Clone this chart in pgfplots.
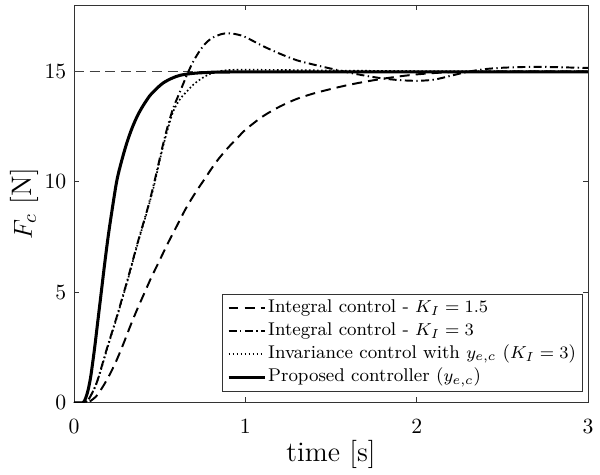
\documentclass[border=0pt]{standalone}
\usepackage{pgfplots}
\pgfplotsset{compat=1.18}
\begin{document}
\begin{tikzpicture}
\begin{axis}[
  name=ax,
  scale only axis, width=237pt, height=183.4pt,
  xmin=0, xmax=3, ymin=0, ymax=18,
  xtick={0,1,2,3}, ytick={0,5,10,15},
  tick align=inside, major tick length=2.5pt,
  axis line style={draw=black!80},
  every tick/.style={draw=black!80},
  tick label style={font=\normalsize},
  xticklabel style={anchor=base, yshift=-14.3pt},
  xlabel={time [s]}, ylabel={$F_c$ [N]},
  every axis x label/.style={at={([yshift=-24pt]axis description cs:0.5,0)}, anchor=center, font=\fontsize{13}{15}\selectfont},
  every axis y label/.style={at={([xshift=-22.6pt]axis description cs:0,0.5)}, rotate=90, anchor=center, font=\fontsize{13}{15}\selectfont},
  legend style={at={(0.99,0.028)}, anchor=south east,
    font=\fontsize{8.5}{10}\selectfont,
    draw=black!80, inner xsep=2pt, inner ysep=1pt, row sep=0pt,
    nodes={inner sep=1pt, text height=6.4pt, text depth=2.3pt}},
  legend cell align=left,
  legend image code/.code={\draw[#1] (0pt,0pt) -- (16.6pt,0pt);},
]
\addplot[black!75, line width=0.5pt, dash pattern=on 4.6pt off 2.6pt, forget plot] coordinates {(0,15) (3,15)};
\addplot[black, line width=0.9pt, dash pattern=on 4.6pt off 2.8pt, smooth, tension=0.5] coordinates {
(0,0)(0.07,0)(0.09,0.05)(0.13,0.3)(0.17,0.75)(0.21,1.3)(0.25,1.95)(0.29,2.7)(0.33,3.5)(0.37,4.25)(0.41,4.95)(0.45,5.65)(0.50,6.45)(0.55,7.25)(0.60,8.0)(0.65,8.75)(0.70,9.4)(0.76,10.1)(0.83,10.9)(0.90,11.55)(0.95,11.95)(1.0,12.35)(1.1,12.95)(1.2,13.4)(1.3,13.75)(1.4,14.0)(1.5,14.2)(1.6,14.38)(1.7,14.53)(1.8,14.66)(1.9,14.77)(2.0,14.86)(2.1,14.92)(2.2,14.96)(2.4,14.99)(2.6,15.0)(3,15.0)};
\addlegendentry{Integral control - $K_I = 1.5$}
\addplot[black, line width=0.9pt, dash pattern=on 3.7pt off 1.6pt on 0.6pt off 1.6pt, smooth, tension=0.5] coordinates {
(0,0)(0.06,0)(0.08,0.1)(0.10,0.35)(0.13,0.85)(0.16,1.6)(0.19,2.4)(0.22,3.15)(0.25,3.9)(0.28,4.7)(0.31,5.5)(0.34,6.35)(0.37,7.2)(0.40,8.0)(0.43,8.8)(0.46,9.7)(0.49,10.7)(0.52,11.7)(0.55,12.6)(0.58,13.35)(0.62,14.1)(0.66,14.85)(0.70,15.5)(0.75,16.1)(0.80,16.48)(0.86,16.68)(0.90,16.72)(0.95,16.67)(1.0,16.55)(1.1,16.15)(1.2,15.8)(1.3,15.5)(1.4,15.3)(1.5,15.12)(1.6,14.95)(1.7,14.8)(1.8,14.68)(1.9,14.6)(2.0,14.57)(2.1,14.62)(2.2,14.8)(2.3,14.98)(2.4,15.1)(2.5,15.16)(2.6,15.19)(2.7,15.2)(2.8,15.19)(2.9,15.17)(3.0,15.15)};
\addlegendentry{Integral control - $K_I = 3$}
\addplot[black, line width=0.75pt, dash pattern=on 0.75pt off 1.1pt, smooth, tension=0.5] coordinates {
(0,0)(0.06,0)(0.08,0.1)(0.10,0.35)(0.13,0.85)(0.16,1.55)(0.19,2.35)(0.22,3.1)(0.25,3.85)(0.28,4.65)(0.31,5.45)(0.34,6.3)(0.37,7.15)(0.40,7.95)(0.43,8.75)(0.46,9.6)(0.49,10.6)(0.52,11.6)(0.55,12.45)(0.58,13.2)(0.62,13.75)(0.66,14.1)(0.70,14.42)(0.75,14.7)(0.80,14.9)(0.86,15.02)(0.95,15.07)(1.2,15.06)(1.6,15.03)(2.0,15.01)(3,15.0)};
\addlegendentry{Invariance control with $y_{e,c}$ ($K_I = 3$)}
\addplot[black, line width=1.4pt, smooth, tension=0.5] coordinates {
(0,0)(0.05,0)(0.065,0.15)(0.08,0.5)(0.09,0.85)(0.10,1.3)(0.12,2.45)(0.14,3.75)(0.16,5.05)(0.18,6.35)(0.20,7.55)(0.22,8.6)(0.25,10.05)(0.28,11.0)(0.31,11.8)(0.34,12.45)(0.37,12.98)(0.40,13.4)(0.44,13.87)(0.48,14.2)(0.52,14.47)(0.57,14.68)(0.62,14.82)(0.70,14.91)(0.8,14.95)(1.0,14.97)(3,14.97)};
\addlegendentry{Proposed controller ($y_{e,c}$)}
\end{axis}
\pgfresetboundingbox
\path ([xshift=-34.1pt,yshift=-33.2pt]ax.south west) rectangle ([xshift=5.5pt,yshift=2.3pt]ax.north east);
\end{tikzpicture}
\end{document}
